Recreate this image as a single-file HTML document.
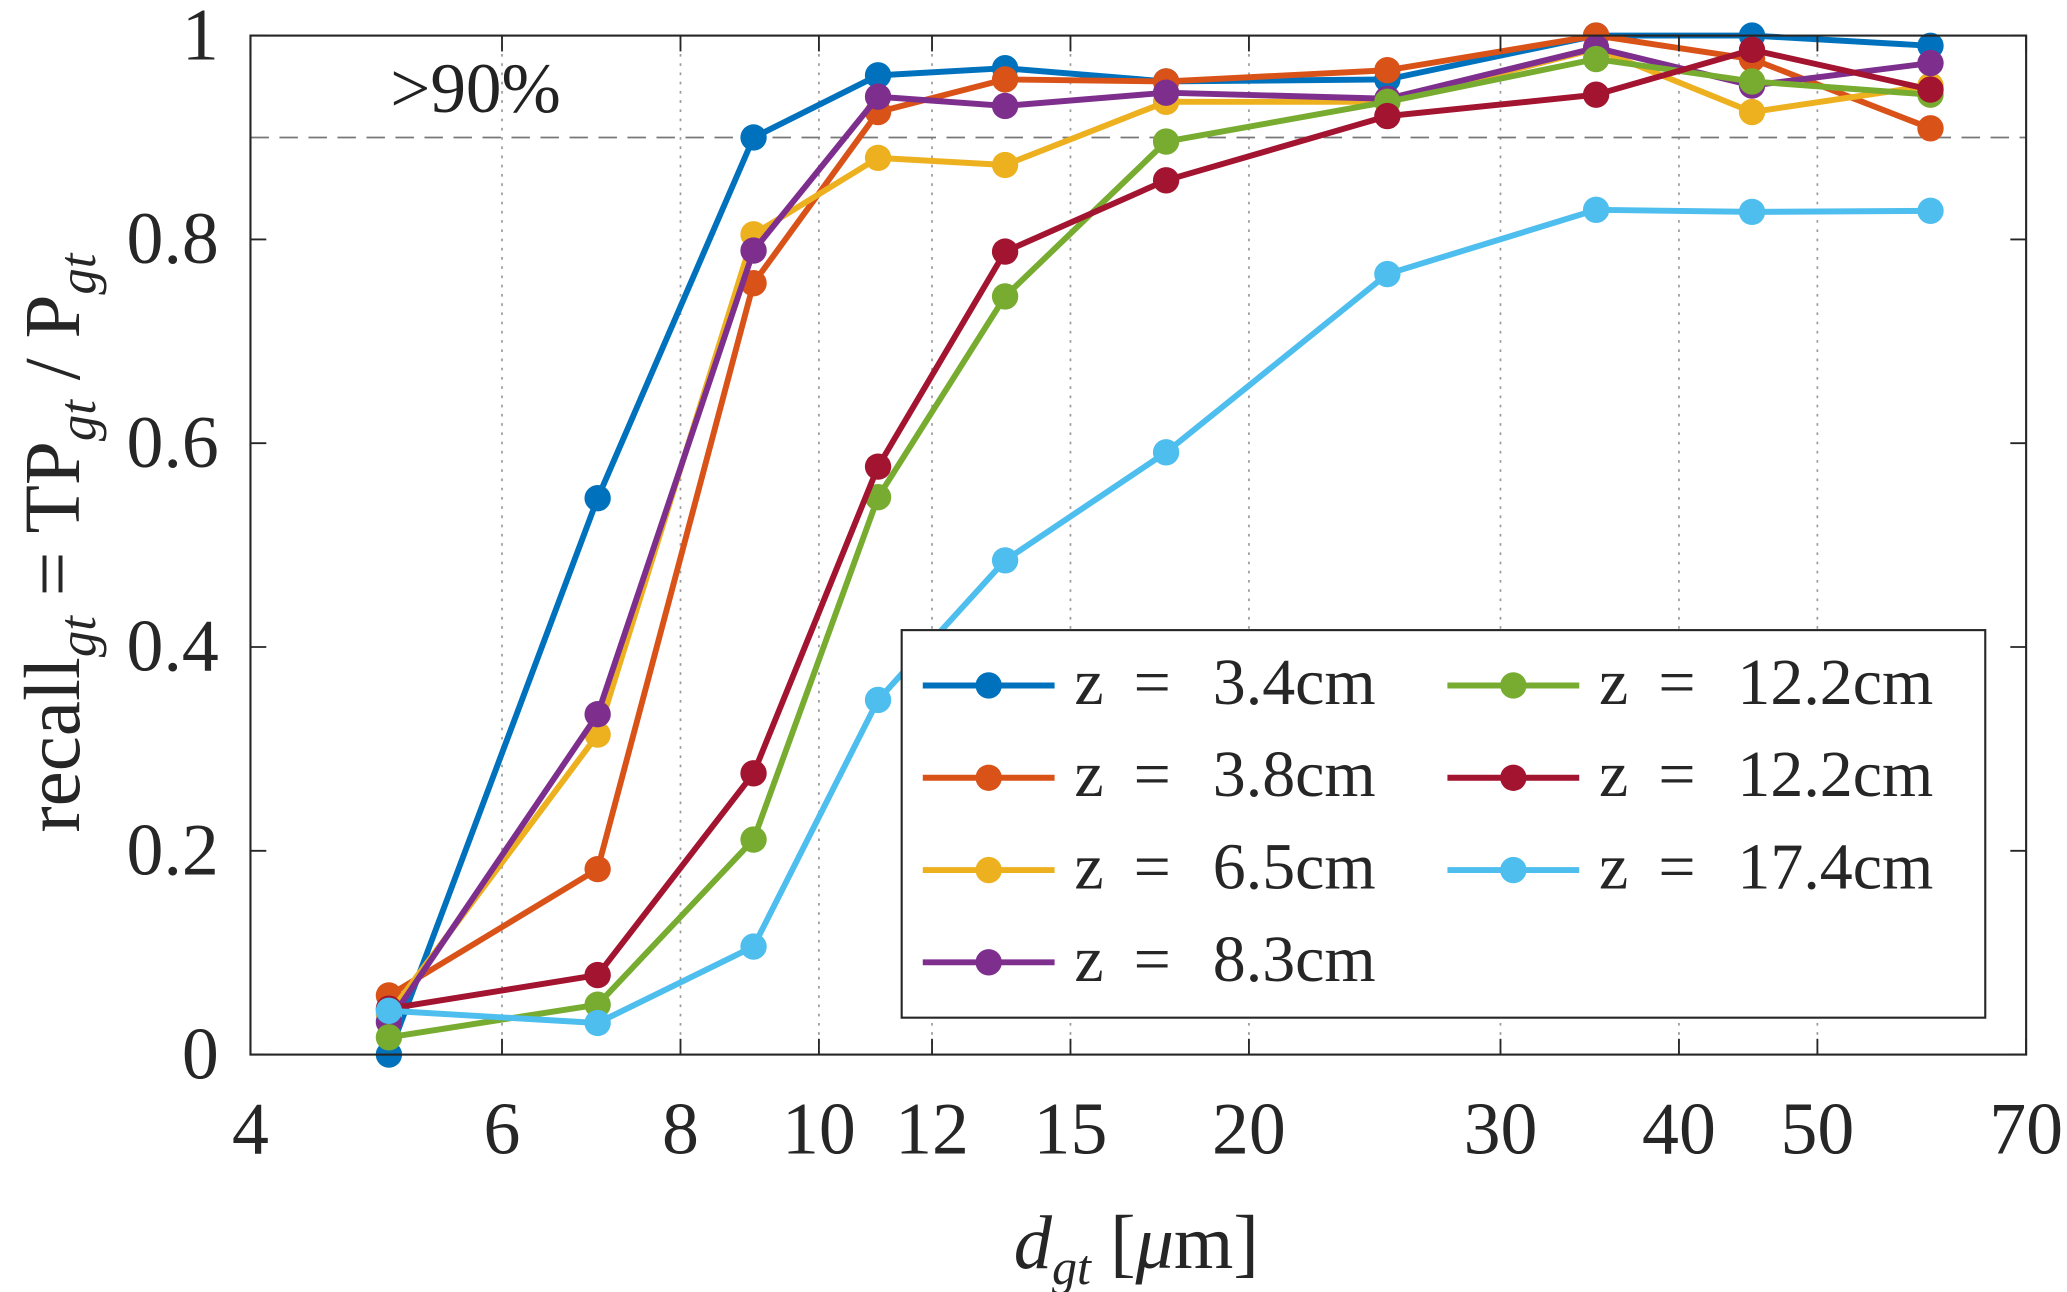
<!DOCTYPE html>
<html><head><meta charset="utf-8"><style>
html,body{margin:0;padding:0;background:#fff;}
svg{display:block;font-family:"Liberation Serif","DejaVu Serif",serif;}
</style></head><body>
<svg id="chart" width="2067" height="1292" viewBox="0 0 1568 980.1" xmlns="http://www.w3.org/2000/svg" xml:space="preserve">
<rect x="0" y="0" width="1568" height="980.1" fill="#fff"/>
<g id="grid"></g>
<g id="series"></g>
<g id="axes"></g>
<g id="legend"></g>
</svg>
<script>
const xs = [5, 7, 9, 11, 13.5, 17.5, 25, 35, 45, 60];
const seriesLabels = ["3.4cm","3.8cm","6.5cm","8.3cm","12.2cm","12.2cm","17.4cm"];
const s34 = [0, 0.546, 0.90, 0.961, 0.968, 0.955, 0.957, 1.0, 1.0, 0.99];
const s38 = [0.058, 0.182, 0.757, 0.925, 0.957, 0.955, 0.966, 1.0, 0.977, 0.909];
const s65 = [0.04, 0.314, 0.805, 0.88, 0.873, 0.935, 0.935, 0.987, 0.925, 0.951];
const s83 = [0.032, 0.334, 0.789, 0.94, 0.931, 0.944, 0.938, 0.988, 0.951, 0.973];
const s122a = [0.017, 0.049, 0.211, 0.547, 0.744, 0.896, 0.935, 0.977, 0.955, 0.942];
const s122b = [0.045, 0.078, 0.276, 0.577, 0.788, 0.858, 0.921, 0.942, 0.986, 0.947];
const s174 = [0.043, 0.031, 0.106, 0.348, 0.485, 0.591, 0.766, 0.829, 0.827, 0.828];
const xTicks = [4, 6, 8, 10, 12, 15, 20, 30, 40, 50, 70];
const yTicks = [0, 0.2, 0.4, 0.6, 0.8, 1];
const yTickLabels = ["0","0.2","0.4","0.6","0.8","1"];
const threshold = 0.9;

const colors = ["#0072BD","#D95319","#EDB120","#7E2F8E","#77AC30","#A2142F","#4DBEEE"];
const allSeries = [s34,s38,s65,s83,s122a,s122b,s174];
const L=190,R=1537,T=27,B=800;
const NS="http://www.w3.org/2000/svg";
const xMin=4,xMax=70;
function X(v){return L+(Math.log(v/xMin)/Math.log(xMax/xMin))*(R-L);}
function Y(v){return B-v*(B-T);}
function mk(tag,attrs,parent){const e=document.createElementNS(NS,tag);for(const k in attrs)e.setAttribute(k,attrs[k]);parent.appendChild(e);return e;}
const grid=document.getElementById('grid'),axes=document.getElementById('axes'),ser=document.getElementById('series'),leg=document.getElementById('legend');

xTicks.forEach(t=>{
  if(t>xMin&&t<xMax){
    const g=mk('line',{x1:X(t),x2:X(t),y1:T,y2:B,stroke:'#9a9a9a','stroke-width':1.3,'stroke-dasharray':'2 5'},grid);
    
    
  }
});
const th=mk('line',{x1:L,x2:R,y1:Y(threshold),y2:Y(threshold),stroke:'#777','stroke-width':1.3,'stroke-dasharray':'14 8'},grid);


const tt=mk('text',{x:296,y:85,'font-size':54,fill:'#222'},grid);tt.textContent='>90%';



allSeries.forEach((s,i)=>{
  const g=mk('g',{},ser);
  
  
  mk('polyline',{points:s.map((v,j)=>X(xs[j])+','+Y(v)).join(' '),fill:'none',stroke:colors[i],'stroke-width':4.5,'stroke-linejoin':'round'},g);
  s.forEach((v,j)=>{
    const c=mk('circle',{cx:X(xs[j]),cy:Y(v),r:10,fill:colors[i]},g);
    
    
  });
});

const box=mk('rect',{x:L,y:T,width:R-L,height:B-T,fill:'none',stroke:'#262626','stroke-width':1.6},axes);


xTicks.forEach(t=>{
  const x=X(t);
  mk('line',{x1:x,x2:x,y1:B,y2:B-12,stroke:'#262626','stroke-width':1.4},axes);
  mk('line',{x1:x,x2:x,y1:T,y2:T+12,stroke:'#262626','stroke-width':1.4},axes);
  const l=mk('text',{x:x,y:875,'text-anchor':'middle','font-size':56,fill:'#262626'},axes);l.textContent=t;
  
  
});
yTicks.forEach((t,i)=>{
  const y=Y(t);
  mk('line',{x1:L,x2:L+12,y1:y,y2:y,stroke:'#262626','stroke-width':1.4},axes);
  mk('line',{x1:R,x2:R-12,y1:y,y2:y,stroke:'#262626','stroke-width':1.4},axes);
  const l=mk('text',{x:166,y:y+18,'text-anchor':'end','font-size':56,fill:'#262626'},axes);l.textContent=yTickLabels[i];
  
  
});
const xl=mk('text',{x:862,y:962,'text-anchor':'middle','font-size':58,fill:'#262626'},axes);
xl.innerHTML='<tspan font-style="italic">d</tspan><tspan font-style="italic" font-size="38" dy="12">gt</tspan><tspan dy="-12">   [</tspan><tspan font-style="italic">μ</tspan><tspan>m]</tspan>';


const yl=mk('text',{x:0,y:0,'text-anchor':'middle','font-size':60,fill:'#262626',transform:'translate(60,412) rotate(-90)'},axes);
yl.innerHTML='recall<tspan font-style="italic" font-size="40" dy="12">gt</tspan><tspan dy="-12">  =  TP</tspan><tspan font-style="italic" font-size="40" dy="12">gt</tspan><tspan dy="-12"> / P</tspan><tspan font-style="italic" font-size="40" dy="12">gt</tspan>';



const lb=mk('rect',{x:684,y:478,width:822,height:294,fill:'#fff',stroke:'#262626','stroke-width':1.6},leg);


seriesLabels.forEach((n,i)=>{
  const col=i<4?0:1,row=i<4?i:i-4;
  const x0=col?1098:700,y=520+row*70;
  const g=mk('g',{},leg);
  
  
  mk('line',{x1:x0,x2:x0+100,y1:y,y2:y,stroke:colors[i],'stroke-width':4.5},g);
  mk('circle',{cx:x0+50,cy:y,r:10,fill:colors[i]},g);
  const t1=mk('text',{x:x0+115,y:y+14,'font-size':50,fill:'#262626'},g);t1.textContent='z';
  const t2=mk('text',{x:x0+160,y:y+14,'font-size':50,fill:'#262626'},g);t2.textContent='=';
  const t3=mk('text',{x:x0+220,y:y+14,'font-size':50,fill:'#262626'},g);t3.textContent=n;
});
</script>
</body></html>
